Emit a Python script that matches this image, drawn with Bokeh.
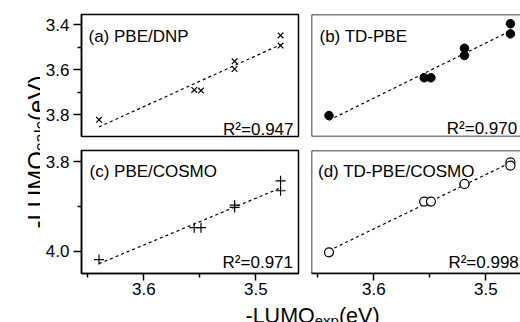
import numpy as np
from bokeh.plotting import figure
from bokeh.models import Range1d, FixedTicker, Label, Span
from bokeh.layouts import row, column
from bokeh.embed import file_html
from bokeh.resources import INLINE

# ---------------- data ----------------
lumo_exp = [3.64, 3.555, 3.549, 3.519, 3.519, 3.478, 3.478]
calc_pbe_dnp = [3.822, 3.689, 3.692, 3.562, 3.596, 3.447, 3.492]
calc_td_pbe = [3.803, 3.635, 3.635, 3.504, 3.536, 3.395, 3.440]
calc_pbe_cosmo = [4.018, 3.947, 3.947, 3.897, 3.902, 3.843, 3.865]
calc_td_pbe_cosmo = [4.002, 3.889, 3.889, 3.850, 3.850, 3.802, 3.809]

panel_titles = ["(a) PBE/DNP", "(b) TD-PBE", "(c) PBE/COSMO", "(d) TD-PBE/COSMO"]
r2_labels = ["R\u00b2=0.947", "R\u00b2=0.970", "R\u00b2=0.971", "R\u00b2=0.998"]

x_ticks = [3.6, 3.5]
x_tick_labels = ["3.6", "3.5"]
x_minor = [3.65, 3.55, 3.45]
y_ticks_top = [3.4, 3.6, 3.8]
y_tick_labels_top = ["3.4", "3.6", "3.8"]
y_minor_top = [3.5, 3.7]
y_ticks_bot = [3.8, 4.0]
y_tick_labels_bot = ["3.8", "4.0"]
y_minor_bot = [3.9]

FONT = "Liberation Sans"
# Arial / Liberation Sans advance widths (1/1000 em), used to butt text pieces together
ADV = {'-': 333, 'L': 556, 'U': 722, 'M': 833, 'O': 778, 'c': 500, 'a': 556,
       'l': 222, ' ': 278, '(': 333, 'e': 556, 'V': 667, ')': 333, 'x': 500, 'p': 556}


def tw(s, size):
    return sum(ADV[ch] for ch in s) * size / 1000.0


XL, XR_A, XR_B = 3.6556, 3.462, 3.469
YT_TOP, YB_TOP = 3.354, 3.896
YT_BOT, YB_BOT = 3.7755, 4.049


def style_axis(ax, tick_out, standoff):
    ax.major_tick_in = 0
    ax.major_tick_out = tick_out
    ax.minor_tick_in = 0
    ax.minor_tick_out = 4
    ax.major_tick_line_width = 1.5
    ax.minor_tick_line_width = 1.5
    ax.axis_line_width = 1.5
    ax.axis_line_color = "black"
    ax.major_tick_line_color = "black"
    ax.minor_tick_line_color = "black"
    ax.major_label_text_font = FONT
    ax.major_label_text_font_size = "17px"
    ax.major_label_text_color = "black"
    ax.major_label_standoff = standoff


def make_panel(idx, yvals, left, bottom_row):
    xr = XR_A if left else XR_B
    yb, yt = (YB_BOT, YT_BOT) if bottom_row else (YB_TOP, YT_TOP)
    p = figure(
        width=264 if left else 216,
        height=179 if bottom_row else 143,
        x_range=Range1d(XL, xr), y_range=Range1d(yb, yt),
        x_axis_location="below" if bottom_row else None,
        y_axis_location="left" if left else None,
        min_border_left=41 if left else 7,
        min_border_right=6 if left else 0,
        min_border_top=7 if bottom_row else 14,
        min_border_bottom=49 if bottom_row else 7,
        tools="", toolbar_location=None, output_backend="svg",
    )
    p.grid.visible = False
    p.background_fill_color = "white"
    p.border_fill_color = "white"
    if left:
        p.outline_line_color = "black"
        p.outline_line_width = 1.5
        p.outline_line_alpha = 1.0
    else:
        p.outline_line_color = None
        for loc, dim in [(XL, "height"), (yt, "width"), (yb, "width")]:
            p.add_layout(Span(location=loc, dimension=dim, line_color="black", line_width=1.5))
    if bottom_row:
        ax = p.xaxis[0]
        ax.ticker = FixedTicker(ticks=x_ticks, minor_ticks=x_minor)
        ax.major_label_overrides = dict(zip(x_ticks, x_tick_labels))
        style_axis(ax, 7, 2)
    if left:
        ay = p.yaxis[0]
        if bottom_row:
            ay.ticker = FixedTicker(ticks=y_ticks_bot, minor_ticks=y_minor_bot)
            ay.major_label_overrides = dict(zip(y_ticks_bot, y_tick_labels_bot))
        else:
            ay.ticker = FixedTicker(ticks=y_ticks_top, minor_ticks=y_minor_top)
            ay.major_label_overrides = dict(zip(y_ticks_top, y_tick_labels_top))
        style_axis(ay, 8, 4)

    # least-squares fit line through the data
    xs = np.array(lumo_exp)
    ys = np.array(yvals)
    k, b0 = np.polyfit(xs, ys, 1)
    fx = [xs.max(), xs.min()]
    fy = [k * v + b0 for v in fx]
    p.line(fx, fy, line_dash="3 3", line_width=1.2, line_color="black")

    if idx == 0:
        p.scatter(lumo_exp, yvals, marker="x", size=8, line_color="black", line_width=1.2)
    elif idx == 1:
        p.scatter(lumo_exp, yvals, marker="circle", size=8.5, fill_color="black", line_color="black")
    elif idx == 2:
        p.scatter(lumo_exp, yvals, marker="cross", size=10, line_color="black", line_width=1.2)
    else:
        p.scatter(lumo_exp, yvals, marker="circle", size=9, fill_color="white",
                  line_color="black", line_width=1.2)

    tx_off = [7, 8, 8, 6.5][idx]
    ty_off = [-21.5, -21.5, -21, -21][idx]
    p.add_layout(Label(x=XL, y=yt, x_offset=tx_off, y_offset=ty_off, text=panel_titles[idx],
                       text_font=FONT, text_font_size="17px", text_color="black",
                       text_align="left", text_baseline="alphabetic"))
    rx_off = [-5, -3.3, -5.5, -1.7][idx]
    ry_off = [7, 8, 11.5, 11.3][idx]
    p.add_layout(Label(x=xr, y=yb, x_offset=rx_off, y_offset=ry_off, text=r2_labels[idx],
                       text_font=FONT, text_font_size="17px", text_color="black",
                       text_align="right", text_baseline="alphabetic"))
    return p


pa = make_panel(0, calc_pbe_dnp, True, False)
pb = make_panel(1, calc_td_pbe, False, False)
pc = make_panel(2, calc_pbe_cosmo, True, True)
pd = make_panel(3, calc_td_pbe_cosmo, False, True)

# ---------------- y axis title (rotated, with subscript) ----------------
ylab = figure(width=40, height=322, x_range=Range1d(0, 40), y_range=Range1d(0, 322),
              x_axis_location=None, y_axis_location=None, min_border=0,
              tools="", toolbar_location=None, output_backend="svg")
ylab.grid.visible = False
ylab.outline_line_color = None
ylab.background_fill_color = "white"
ylab.border_fill_color = "white"
FY, FYS = 24, 17
pos = 322 - 228.0
ypieces = [("-LUMO", FY, 36.0), ("calc", FYS, 40.0), (" (eV)", FY, 36.0)]
for txt, fs, bx in ypieces:
    ylab.add_layout(Label(x=bx, y=pos, text=txt, angle=90, angle_units="deg",
                          text_font=FONT, text_font_size=f"{fs}px",
                          text_color="black", text_align="left", text_baseline="alphabetic"))
    pos += tw(txt, fs)

# ---------------- x axis title (with subscript) ----------------
xlab = figure(width=520, height=27, x_range=Range1d(0, 520), y_range=Range1d(27, 0),
              x_axis_location=None, y_axis_location=None, min_border=0,
              tools="", toolbar_location=None, output_backend="svg",
              margin=(-27, 0, 0, 0))
xlab.grid.visible = False
xlab.outline_line_color = None
xlab.background_fill_color = None
xlab.border_fill_color = None
FX, FXS = 21.5, 15
xpieces = [("-LUMO", FX, 20.5), ("exp", FXS, 25.0), (" (eV)", FX, 20.5)]
pos = 245.0
for txt, fs, by in xpieces:
    xlab.add_layout(Label(x=pos, y=by, text=txt, text_font=FONT, text_font_size=f"{fs}px",
                          text_color="black", text_align="left", text_baseline="alphabetic"))
    pos += tw(txt, fs)

layout = column(row(ylab, column(row(pa, pb), row(pc, pd))), xlab)

open("out.html", "w").write(file_html(layout, INLINE))
